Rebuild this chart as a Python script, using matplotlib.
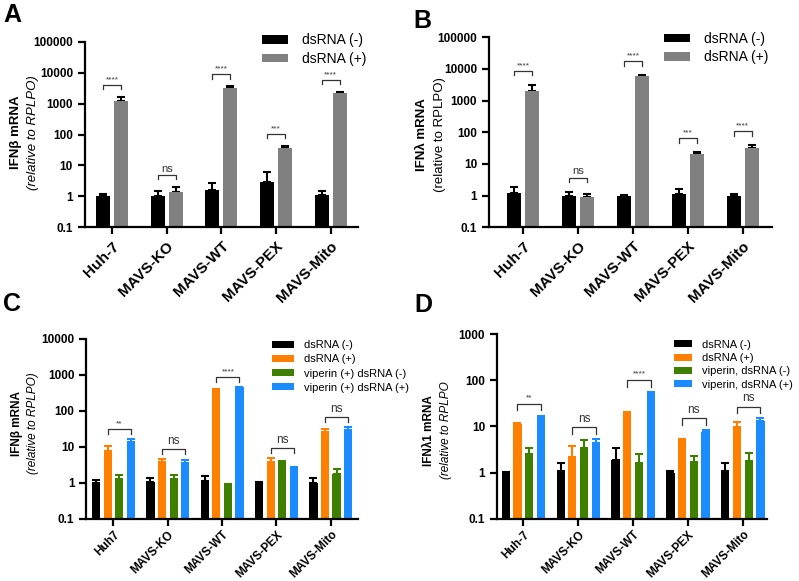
import matplotlib.pyplot as plt
import numpy as np

plt.rcParams['font.family'] = ['Liberation Sans', 'DejaVu Sans']

lineas = ['Huh-7', 'MAVS-KO', 'MAVS-WT', 'MAVS-PEX', 'MAVS-Mito']
lineas_c = ['Huh7', 'MAVS-KO', 'MAVS-WT', 'MAVS-PEX', 'MAVS-Mito']

# Panel A: IFNb
a_menos = [1.02, 1.05, 1.6, 3.0, 1.1]
a_menos_err = [0.18, 0.45, 1.1, 3.0, 0.4]
a_mas = [1180, 1.35, 3200, 36, 2200]
a_mas_err = [440, 0.6, 400, 6, 150]
a_sig = ['****', 'ns', '****', '***', '****']

# Panel B: IFNlambda
b_menos = [1.2, 1.0, 0.97, 1.1, 0.97]
b_menos_err = [0.6, 0.3, 0.05, 0.5, 0.18]
b_mas = [2000, 0.92, 5800, 20, 32]
b_mas_err = [1100, 0.23, 500, 3, 6]
b_sig = ['****', 'ns', '****', '***', '****']

# Panel C: IFNb con viperina
c_menos = [1.0, 1.05, 1.1, 1.0, 1.0]
c_menos_err = [0.2, 0.33, 0.46, 0.03, 0.35]
c_mas = [7.7, 3.9, 380, 3.75, 26]
c_mas_err = [2.8, 0.7, 15, 1.15, 5]
c_vip_menos = [1.27, 1.29, 0.95, 3.9, 1.74]
c_vip_menos_err = [0.33, 0.4, 0.0, 0.05, 0.7]
c_vip_mas = [13.7, 3.6, 445, 2.56, 30]
c_vip_mas_err = [2.9, 0.6, 8, 0.25, 6]
c_sig = ['**', 'ns', '****', 'ns', 'ns']

# Panel D: IFNlambda1 con viperina
d_menos = [1.0, 1.1, 1.9, 1.0, 1.1]
d_menos_err = [0.02, 0.5, 1.6, 0.1, 0.5]
d_mas = [11.2, 2.2, 19.3, 4.9, 9.9]
d_mas_err = [0.8, 1.5, 0.8, 0.5, 2.7]
d_vip_menos = [2.5, 3.4, 1.65, 1.7, 1.8]
d_vip_menos_err = [0.85, 1.6, 0.9, 0.6, 0.9]
d_vip_mas = [16.3, 4.3, 50, 7.6, 13.2]
d_vip_mas_err = [0.8, 1.1, 6, 0.9, 1.8]
d_sig = ['**', 'ns', '****', 'ns', 'ns']

negro = '#000000'
gris = '#808080'
naranja = '#FF8000'
verde = '#3F7F00'
azul = '#1A8CFF'


def dibujar(ax, valores, errores, colores, etiquetas, xlab, sig, par, ymax,
            ancho, paso, xlim, factor, fs_x, fs_ns, pad_x):
    x = np.arange(len(xlab))
    n = len(valores)
    offs = (np.arange(n) - (n - 1) / 2) * paso
    for v, e, c, et, o in zip(valores, errores, colores, etiquetas, offs):
        v = np.array(v)
        ax.bar(x + o, v - 0.1, width=ancho, bottom=0.1, color=c, label=et, zorder=2)
        ce = negro if c == gris else c
        ax.errorbar(x + o, v, yerr=[np.zeros(len(v)), e], fmt='none', ecolor=ce,
                    elinewidth=1.5, capsize=3, capthick=1.5, zorder=1)
    # corchetes de significancia
    for i in range(len(xlab)):
        tope = max(valores[k][i] + errores[k][i] for k in range(n))
        h = tope * factor
        x1 = x[i] + offs[par[0]]
        x2 = x[i] + offs[par[1]]
        ax.plot([x1, x1, x2, x2], [h * 0.72, h, h, h * 0.72], color='#333333', lw=0.9)
        fs = fs_ns if sig[i] == 'ns' else 6
        ax.text((x1 + x2) / 2, h * 1.12, sig[i], ha='center', va='bottom', fontsize=fs,
                color='#333333')
    ax.set_yscale('log')
    ax.set_ylim(0.1, ymax)
    ax.set_xlim(*xlim)
    ticks = [10.0 ** k for k in range(-1, int(round(np.log10(ymax))) + 1)]
    ax.set_yticks(ticks, labels=[f'{t:g}' for t in ticks])
    ax.minorticks_off()
    ax.set_xticks(x, labels=xlab, rotation=45, ha='right', rotation_mode='anchor')
    for s in ['top', 'right']:
        ax.spines[s].set_visible(False)
    for s in ['left', 'bottom']:
        ax.spines[s].set_linewidth(1.6)
    ax.tick_params(axis='both', width=1.6, length=5)
    ax.tick_params(axis='x', pad=pad_x)
    for t in ax.get_yticklabels():
        t.set_fontweight('bold')
        t.set_fontsize(8.5)
    for t in ax.get_xticklabels():
        t.set_fontweight('bold')
        t.set_fontsize(fs_x)


fig = plt.figure(figsize=(7.99, 5.81), dpi=100)

ax_a = fig.add_axes([0.106, 0.609, 0.342, 0.319])
dibujar(ax_a, [a_menos, a_mas], [a_menos_err, a_mas_err], [negro, gris],
        ['dsRNA (-)', 'dsRNA (+)'], lineas, a_sig, (0, 1), 1e5,
        0.26, 0.33, (-0.5, 4.5), 2.5, 11, 8, 3.5)
ax_a.text(-0.25, 0.51, 'IFNβ mRNA', rotation=90, transform=ax_a.transAxes,
          ha='center', va='center', fontsize=9.5, fontweight='bold')
ax_a.text(-0.19, 0.51, '(relative to RPLPO)', rotation=90, transform=ax_a.transAxes,
          ha='center', va='center', fontsize=9.5, style='italic')
ax_a.legend(loc='upper left', bbox_to_anchor=(0.319, 0.955), bbox_transform=fig.transFigure,
            frameon=False, fontsize=10, borderpad=0, handlelength=1.9, handleheight=0.6,
            handletextpad=1.0, labelspacing=0.35)

ax_b = fig.add_axes([0.612, 0.609, 0.354, 0.327])
dibujar(ax_b, [b_menos, b_mas], [b_menos_err, b_mas_err], [negro, gris],
        ['dsRNA (-)', 'dsRNA (+)'], lineas, b_sig, (0, 1), 1e5,
        0.26, 0.33, (-0.62, 4.53), 2.8, 11, 8, 3.5)
ax_b.text(-0.237, 0.49, 'IFNλ mRNA', rotation=90, transform=ax_b.transAxes,
          ha='center', va='center', fontsize=9.5, fontweight='bold')
ax_b.text(-0.173, 0.49, '(relative to RPLPO)', rotation=90, transform=ax_b.transAxes,
          ha='center', va='center', fontsize=9.5)
ax_b.legend(loc='upper left', bbox_to_anchor=(0.822, 0.957), bbox_transform=fig.transFigure,
            frameon=False, fontsize=10, borderpad=0, handlelength=1.9, handleheight=0.6,
            handletextpad=1.0, labelspacing=0.3)

ax_c = fig.add_axes([0.108, 0.107, 0.340, 0.310])
dibujar(ax_c, [c_menos, c_mas, c_vip_menos, c_vip_mas],
        [c_menos_err, c_mas_err, c_vip_menos_err, c_vip_mas_err],
        [negro, naranja, verde, azul],
        ['dsRNA (-)', 'dsRNA (+)', 'viperin (+) dsRNA (-)', 'viperin (+) dsRNA (+)'],
        lineas_c, c_sig, (1, 3), 1e4, 0.15, 0.213, (-0.5, 4.5), 1.9, 8.5, 8.5, 2)
ax_c.text(-0.254, 0.53, 'IFNβ mRNA', rotation=90, transform=ax_c.transAxes,
          ha='center', va='center', fontsize=8.5, fontweight='bold')
ax_c.text(-0.195, 0.53, '(relative to RPLPO)', rotation=90, transform=ax_c.transAxes,
          ha='center', va='center', fontsize=8.5, style='italic')
ax_c.legend(loc='upper left', bbox_to_anchor=(0.334, 0.424), bbox_transform=fig.transFigure,
            frameon=False, fontsize=8, borderpad=0, handlelength=1.9, handleheight=0.6,
            handletextpad=0.9, labelspacing=0.38)

ax_d = fig.add_axes([0.622, 0.107, 0.338, 0.318])
dibujar(ax_d, [d_menos, d_mas, d_vip_menos, d_vip_mas],
        [d_menos_err, d_mas_err, d_vip_menos_err, d_vip_mas_err],
        [negro, naranja, verde, azul],
        ['dsRNA (-)', 'dsRNA (+)', 'viperin, dsRNA (-)', 'viperin, dsRNA (+)'],
        lineas, d_sig, (1, 3), 1e3, 0.15, 0.213, (-0.48, 4.44), 1.8, 8.5, 8.5, 2)
ax_d.text(-0.25, 0.48, 'IFNλ1 mRNA', rotation=90, transform=ax_d.transAxes,
          ha='center', va='center', fontsize=8.5, fontweight='bold')
ax_d.text(-0.19, 0.48, '(relative to RPLPO', rotation=90, transform=ax_d.transAxes,
          ha='center', va='center', fontsize=8.5, style='italic')
ax_d.legend(loc='upper left', bbox_to_anchor=(0.836, 0.425), bbox_transform=fig.transFigure,
            frameon=False, fontsize=8, borderpad=0, handlelength=1.7, handleheight=0.6,
            handletextpad=0.9, labelspacing=0.3)

# letras de los paneles
for letra, px, py in [('A', 0.004, 0.995), ('B', 0.517, 0.985), ('C', 0.004, 0.498), ('D', 0.518, 0.495)]:
    fig.text(px, py, letra, fontsize=18, fontweight='bold', va='top', ha='left')

fig.savefig('out.png', dpi=100)
